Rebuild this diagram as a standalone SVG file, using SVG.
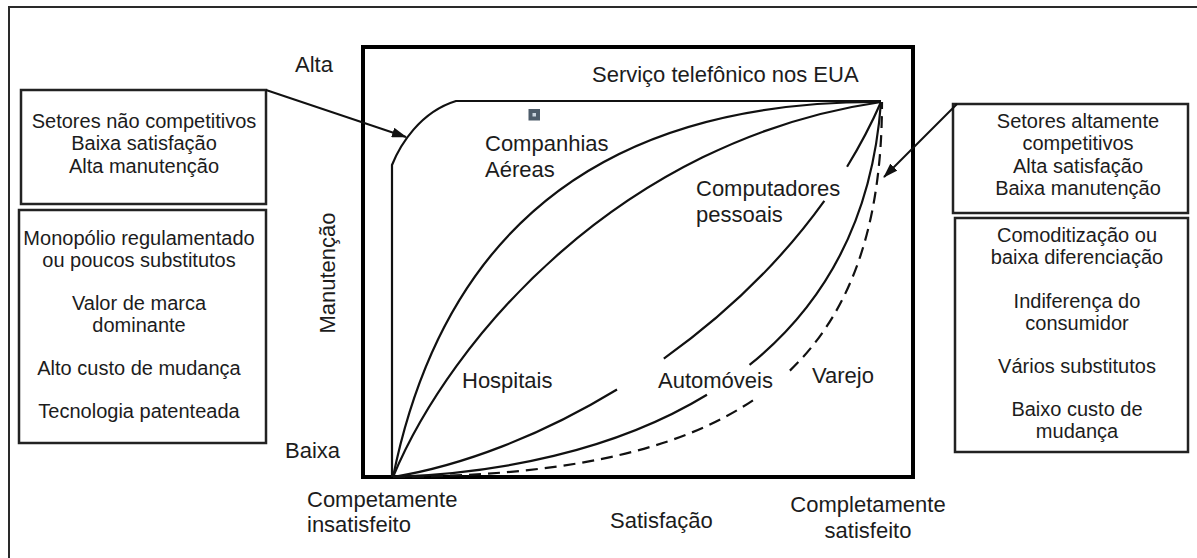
<svg xmlns="http://www.w3.org/2000/svg" width="1197" height="558" viewBox="0 0 1197 558">
<style>
  text { font-family: "Liberation Sans", Arial, sans-serif; fill: #1c1c1c; }
  .lbl { font-size: 22px; }
  .box { font-size: 20px; text-anchor: middle; }
  .mid { text-anchor: middle; }
  .frame { fill: none; stroke: #2a2a2a; stroke-width: 2; }
  .nbox { fill: #fff; stroke: #222; stroke-width: 2.5; }
  .chart { fill: none; stroke: #000; stroke-width: 4; }
  .curve { fill: none; stroke: #111; stroke-width: 2.2; stroke-linecap: butt; }
  .dash { stroke-dasharray: 12 7; }
  .arrow { fill: none; stroke: #111; stroke-width: 2; marker-end: url(#ah); }
</style>
<defs>
  <marker id="ah" markerWidth="15" markerHeight="10" refX="14" refY="5" orient="auto" markerUnits="userSpaceOnUse">
    <path d="M0,0 L15,5 L0,10 z" fill="#111"/>
  </marker>
</defs>
<rect width="1197" height="558" fill="#fff"/>
<path class="frame" d="M9,558 V7 H1197"/>

<g id="chart-box">
  <rect class="chart" x="363" y="47" width="550" height="430"/>
</g>

<g id="curves">
  <path class="curve" d="M392,477 V165 C400,145 420,112 456,101 H881"/>
  <path class="curve" d="M393,477 C425,320 520,100 881,102"/>
  <path class="curve" d="M393,477 C450,340 620,140 881,102"/>
  <path class="curve" style="stroke-dasharray:242 56 226 41 1000" d="M393,477 C560,450 790,310 881,102"/>
  <path class="curve" style="stroke-dasharray:328 52 1000" d="M393,477 C600,470 860,390 881,102"/>
  <path class="curve dash" d="M393,477 C549.6,476 673.6,456 757.6,397.1"/>
  <path class="curve dash" d="M789.9,370.6 C849.9,313 882,227.2 882,102"/>
</g>

<g id="marker-square">
  <rect x="528.5" y="109" width="11.5" height="11.5" fill="#4e5d6b"/>
  <rect x="532.5" y="113" width="3.5" height="3.5" fill="#c9d4de"/>
</g>

<g id="axis-labels">
  <text class="lbl" x="295" y="72">Alta</text>
  <text class="lbl" x="285" y="458">Baixa</text>
  <text class="lbl mid" transform="translate(335,273) rotate(-90)">Manutenção</text>
  <text class="lbl" x="307" y="507">Competamente</text>
  <text class="lbl" x="307" y="532">insatisfeito</text>
  <text class="lbl" x="610" y="528">Satisfação</text>
  <text class="lbl mid" x="868" y="512">Completamente</text>
  <text class="lbl mid" x="868" y="538">satisfeito</text>
</g>

<g id="curve-labels">
  <text class="lbl" x="592" y="82">Serviço telefônico nos EUA</text>
  <text class="lbl" x="485" y="151">Companhias</text>
  <text class="lbl" x="485" y="177">Aéreas</text>
  <text class="lbl" x="696" y="196">Computadores</text>
  <text class="lbl" x="696" y="222">pessoais</text>
  <text class="lbl" x="462" y="388">Hospitais</text>
  <text class="lbl" x="658" y="388">Automóveis</text>
  <text class="lbl" x="812" y="383">Varejo</text>
</g>

<g id="left-box-1">
  <rect class="nbox" x="21" y="90" width="245" height="114"/>
  <text class="box" x="144" y="128">Setores não competitivos</text>
  <text class="box" x="144" y="150">Baixa satisfação</text>
  <text class="box" x="144" y="173">Alta manutenção</text>
</g>

<g id="left-box-2">
  <rect class="nbox" x="19" y="210" width="247" height="233"/>
  <text class="box" x="139" y="245">Monopólio regulamentado</text>
  <text class="box" x="139" y="267">ou poucos substitutos</text>
  <text class="box" x="139" y="310">Valor de marca</text>
  <text class="box" x="139" y="332">dominante</text>
  <text class="box" x="139" y="375">Alto custo de mudança</text>
  <text class="box" x="139" y="418">Tecnologia patenteada</text>
</g>

<g id="right-box-1">
  <rect class="nbox" x="953" y="104" width="235" height="109"/>
  <text class="box" x="1078" y="128">Setores altamente</text>
  <text class="box" x="1078" y="150">competitivos</text>
  <text class="box" x="1078" y="173">Alta satisfação</text>
  <text class="box" x="1078" y="195">Baixa manutenção</text>
</g>

<g id="right-box-2">
  <rect class="nbox" x="955" y="218" width="233" height="234"/>
  <text class="box" x="1077" y="242">Comoditização ou</text>
  <text class="box" x="1077" y="264">baixa diferenciação</text>
  <text class="box" x="1077" y="308">Indiferença do</text>
  <text class="box" x="1077" y="330">consumidor</text>
  <text class="box" x="1077" y="373">Vários substitutos</text>
  <text class="box" x="1077" y="416">Baixo custo de</text>
  <text class="box" x="1077" y="438">mudança</text>
</g>

<g id="connectors">
  <path class="arrow" d="M266,90 L406,137"/>
  <path class="arrow" d="M957,104 L884,177"/>
</g>
</svg>
